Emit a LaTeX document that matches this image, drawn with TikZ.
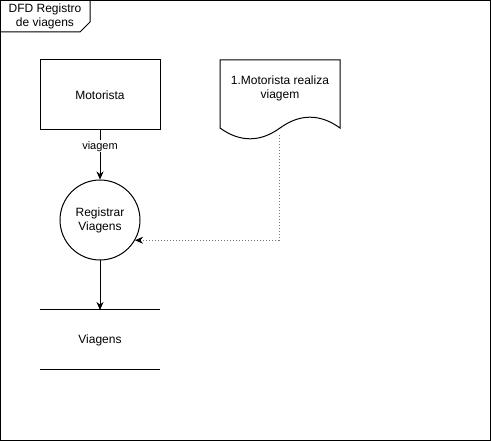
\documentclass[tikz,border=0pt]{standalone}
\usepackage{fontspec}
\setmainfont{Liberation Sans}
\usepackage{tikz}
\usetikzlibrary{arrows,arrows.meta,shapes,positioning}
\usepackage{xcolor}
\definecolor{dfgray}{RGB}{120,120,120}
\tikzstyle{arrow} = [line width=1pt,-{Stealth[length=8pt,width=7pt]},color=black]
\tikzstyle{dotarrow} = [line width=1pt,-{Stealth[length=8pt,width=7pt,color=black]},color=dfgray,dotted]
\tikzstyle{entity} = [draw, line width=1pt, minimum width=120pt, minimum height=70pt, font=\fontsize{12}{14}\selectfont]
\tikzstyle{process} = [draw, line width=1pt, circle, minimum size=80pt, align=center, font=\fontsize{12}{14}\selectfont]

\begin{document}
\begin{tikzpicture}[x=1pt,y=-1pt]
\useasboundingbox (0,0) rectangle (491,441);
% Frame
\draw[line width=1pt] (0.5,0.5) rectangle (490.5,440.5);
\draw[line width=1pt] (0.5,32) -- (80,32) -- (90,22) -- (90,0.5);
\node[align=center, font=\fontsize{12}{14}\selectfont] (title) at (45,16) {DFD Registro\\de viagens};

% Entity and process
\node[entity] (motorista) at (100,95) {Motorista};
\node[process] (registrar) at (100,220) {Registrar\\Viagens};

% Document
\draw[line width=1pt] (220,60) -- (340,60) -- (340,128)
  .. controls (320,113.6) and (300,113.6) .. (280,128)
  .. controls (260,142.4) and (240,142.4) .. (220,128) -- cycle;
\coordinate (docbottom) at (279,135);
\node[align=center, font=\fontsize{12}{14}\selectfont] (regra) at (280,88) {1.Motorista realiza\\viagem};

% Data store
\draw[line width=1pt] (40,310) -- (160,310);
\draw[line width=1pt] (40,370) -- (160,370);
\node[font=\fontsize{12}{14}\selectfont] (viagens) at (100,340) {Viagens};
\coordinate (storetop) at (100,310);

% Flows
\draw[arrow] (motorista) -- node[pos=0.32, fill=white, inner sep=1pt, font=\fontsize{11}{13}\selectfont] {viagem} (registrar);
\draw[arrow] (registrar) -- (storetop);
\draw[dotarrow] (docbottom) |- (registrar.-30);
\end{tikzpicture}
\end{document}
